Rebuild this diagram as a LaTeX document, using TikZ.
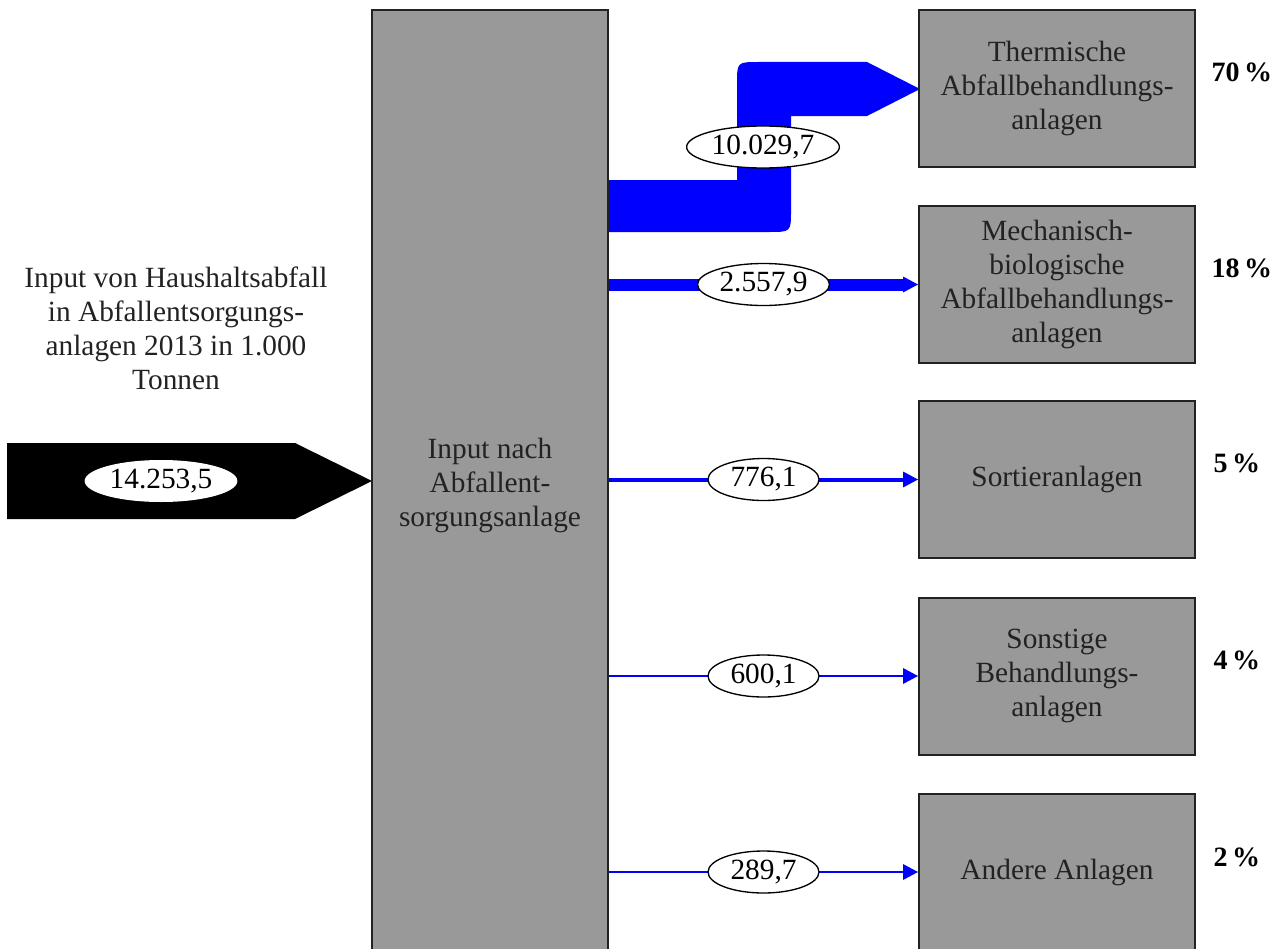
\documentclass[tikz,border=0pt]{standalone}
\usepackage{fontspec}
\setmainfont{Liberation Serif}
\usetikzlibrary{shapes.geometric,arrows.meta}

\definecolor{kasten}{RGB}{153,153,153}
\definecolor{rand}{RGB}{34,34,34}
\definecolor{strom}{RGB}{0,0,255}

\tikzset{every picture/.style={line width=0.75pt}}
\tikzset{
  anlage/.style={draw=rand, line width=1.5pt, fill=kasten, minimum width=207pt, minimum height=117.75pt,
    align=center, inner sep=0pt, text=rand, font=\fontsize{22}{25.5}\selectfont},
  wert/.style={ellipse, draw=black, fill=white, line width=1pt, inner xsep=2pt, inner ysep=0pt,
    minimum width=83.25pt, minimum height=31.5pt, font=\fontsize{22}{25.5}\selectfont},
  fluss/.style={draw=strom, -{Triangle[length=11.25pt, width=12pt, line width=0pt]}},
  anteil/.style={anchor=west, inner sep=0pt, font=\fontsize{21}{25.5}\selectfont\bfseries}
}

\begin{document}
\begin{tikzpicture}[x=0.75pt,y=0.75pt,yscale=-1,xscale=1]
	\useasboundingbox (0,0) rectangle (1285,949);
	
	%Shape: Input arrow
	\fill [black] (7,443) -- (295,443) -- (372,481) -- (295,519) -- (7,519) -- cycle ;
	%Shape: Flow to Thermische
	\fill [strom] (608,180) -- (737,180) -- (737,84) .. controls (737,62) .. (759,62) -- (867,62) -- (920,89) -- (867,116) -- (791,116) -- (791,210) .. controls (791,232) .. (769,232) -- (608,232) -- cycle ;
	
	% Boxes
	\node [anlage, minimum width=177pt, minimum height=712.5pt] (haupt) at (490,485) {Input nach\\Abfallent-\\sorgungsanlage};
	\node [anlage] (thermisch) at (1057,88.5) {Thermische\\Abfallbehandlungs-\\anlagen};
	\node [anlage] (mba) at (1057,284.5) {Mechanisch-\\biologische\\Abfallbehandlungs-\\anlagen};
	\node [anlage] (sortier) at (1057,479.5) {Sortieranlagen};
	\node [anlage] (sonstige) at (1057,676) {Sonstige\\Behandlungs-\\anlagen};
	\node [anlage] (andere) at (1057,872) {Andere Anlagen};
	
	% Text Node
	\node [align=center, inner sep=0pt, text=rand, font=\fontsize{22}{25.5}\selectfont] (titel) at (176,328) {Input von Haushaltsabfall\\in Abfallentsorgungs-\\anlagen 2013 in 1.000\\Tonnen};
	% Text Node
	\node [wert, draw=none] (input) at (161,481) {14.253,5};
	% Text Node
	\node [wert] (w1) at (763,147) {10.029,7};
	
	% Flows
	\draw [fluss, line width=9pt] (haupt.east |- mba.west) -- node [wert] (w2) {2.557,9} (mba.west);
	\draw [fluss, line width=3pt] (haupt.east |- sortier.west) -- node [wert] (w3) {776,1} (sortier.west);
	\draw [fluss, line width=1.5pt] (haupt.east |- sonstige.west) -- node [wert] (w4) {600,1} (sonstige.west);
	\draw [fluss, line width=1.5pt] (haupt.east |- andere.west) -- node [wert] (w5) {289,7} (andere.west);
	
	% Shares
	\node [anteil] (a1) at (1211,72) {70\,\%};
	\node [anteil] (a2) at (1211,268) {18\,\%};
	\node [anteil] (a3) at (1213,463) {5\,\%};
	\node [anteil] (a4) at (1213,660) {4\,\%};
	\node [anteil] (a5) at (1213,857) {2\,\%};
	
\end{tikzpicture}
\end{document}
